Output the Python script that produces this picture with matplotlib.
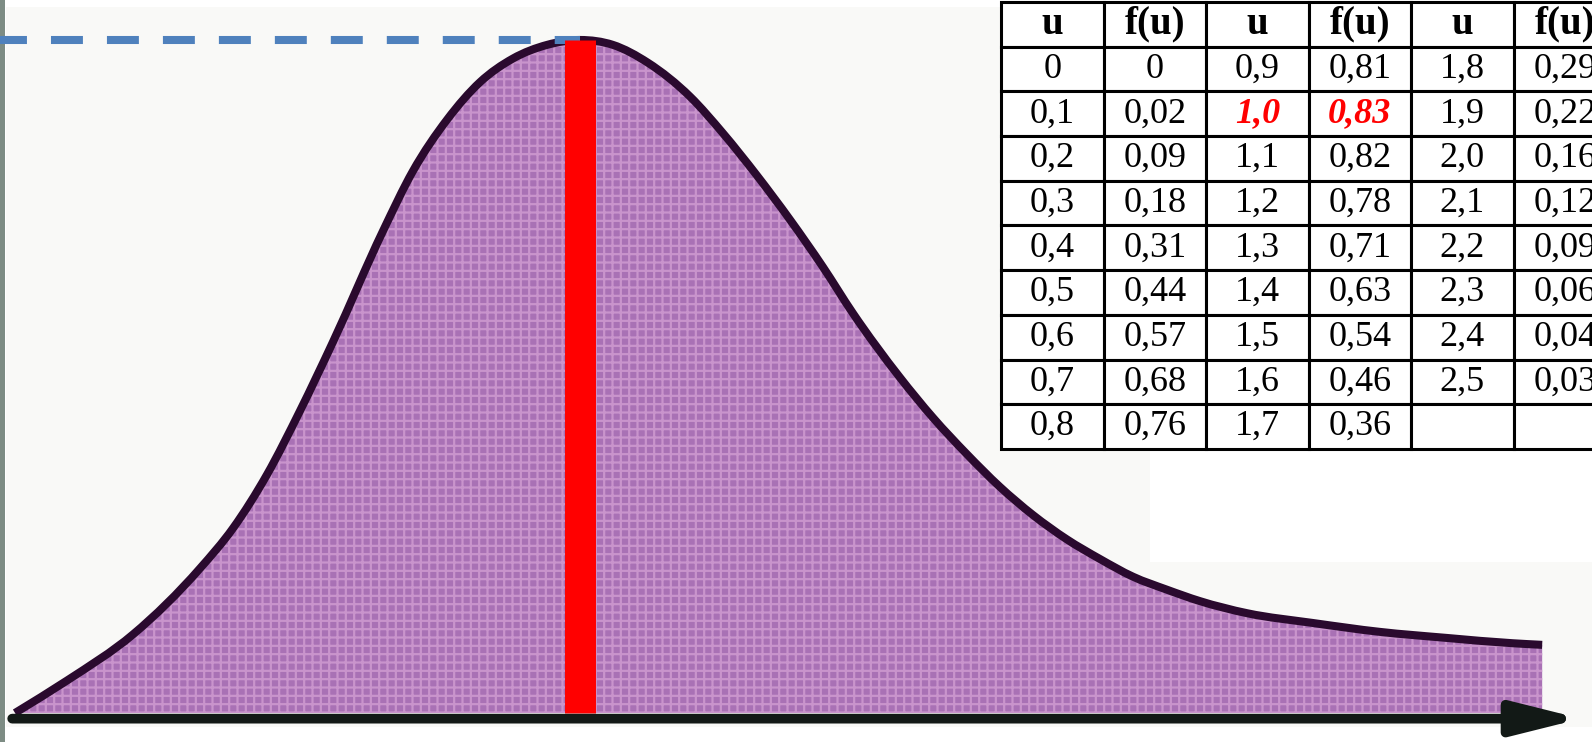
import numpy as np
import matplotlib
matplotlib.use('Agg')
import matplotlib.pyplot as plt
from matplotlib.patches import Rectangle, PathPatch
from matplotlib.path import Path

# table values (u, f(u)), peak highlighted in red
u_vals = [0.0, 0.1, 0.2, 0.3, 0.4, 0.5, 0.6, 0.7, 0.8,
          0.9, 1.0, 1.1, 1.2, 1.3, 1.4, 1.5, 1.6, 1.7,
          1.8, 1.9, 2.0, 2.1, 2.2, 2.3, 2.4, 2.5]
f_vals = [0, 0.02, 0.09, 0.18, 0.31, 0.44, 0.57, 0.68, 0.76,
          0.81, 0.83, 0.82, 0.78, 0.71, 0.63, 0.54, 0.46, 0.36,
          0.29, 0.22, 0.16, 0.12, 0.09, 0.06, 0.04, 0.03]
peak_u = 1.0
peak_f = 0.83

# outline of the drawn curve
curve_u = [0.0, 0.092, 0.209, 0.327, 0.386, 0.446, 0.504, 0.563,
           0.651, 0.704, 0.765, 0.823, 0.881, 0.942, 1.0, 1.058, 1.120,
           1.195, 1.253, 1.313, 1.372, 1.430, 1.483, 1.566, 1.625, 1.685,
           1.743, 1.802, 1.862, 1.920, 1.979, 2.039, 2.097, 2.181, 2.297,
           2.416, 2.535, 2.651, 2.703]
curve_f = [0.0, 0.040, 0.097, 0.178, 0.228, 0.294, 0.372, 0.458,
           0.594, 0.668, 0.732, 0.778, 0.807, 0.824, 0.830, 0.824, 0.802,
           0.760, 0.715, 0.663, 0.608, 0.550, 0.493, 0.414, 0.364, 0.319,
           0.279, 0.244, 0.214, 0.190, 0.168, 0.152, 0.138, 0.123, 0.111,
           0.100, 0.0925, 0.086, 0.084]


def fmt(v, nd):
    if v == 0:
        return '0'
    return ('%.*f' % (nd, v)).replace('.', ',')


def smooth(xs, ys):
    # cubic hermite bezier path through the read points
    x = np.asarray(xs, float)
    y = np.asarray(ys, float)
    h = np.diff(x)
    d = np.diff(y) / h
    m = np.empty_like(y)
    m[0], m[-1] = d[0], d[-1]
    m[1:-1] = (d[:-1] * h[1:] + d[1:] * h[:-1]) / (h[:-1] + h[1:])
    verts = [(x[0], y[0])]
    codes = [Path.MOVETO]
    for i in range(len(x) - 1):
        verts += [(x[i] + h[i] / 3, y[i] + m[i] * h[i] / 3),
                  (x[i + 1] - h[i] / 3, y[i + 1] - m[i + 1] * h[i] / 3),
                  (x[i + 1], y[i + 1])]
        codes += [Path.CURVE4] * 3
    return verts, codes


plt.rcParams['lines.scale_dashes'] = False
plt.rcParams['hatch.linewidth'] = 1.6

fig = plt.figure(figsize=(15.92, 7.42), dpi=100, facecolor='white')
ax = fig.add_axes([0, 0, 1, 1])
ax.set_xlim(-0.0266, 2.7912)
ax.set_ylim(-0.0358, 0.8793)
ax.axis('off')

# scanned paper background
ax.add_patch(Rectangle((0.004, 0.02), 0.996, 0.97, transform=ax.transAxes,
                       facecolor='#f9f9f7', edgecolor='none', zorder=0))
ax.add_patch(Rectangle((0.7224, 0.2426), 0.28, 0.153, transform=ax.transAxes,
                       facecolor='white', edgecolor='none', zorder=0.5))
ax.add_patch(Rectangle((0.0, 0.0), 0.003, 1.0, transform=ax.transAxes,
                       facecolor='#7d8c84', edgecolor='none', zorder=0.6))

# filled curve
verts, codes = smooth(curve_u, curve_f)
area = Path(verts + [(curve_u[-1], 0), (curve_u[0], 0), (curve_u[0], 0)],
            codes + [Path.LINETO, Path.LINETO, Path.CLOSEPOLY])
ax.add_patch(PathPatch(area, facecolor='#a971b5', edgecolor='none', zorder=1))
ax.add_patch(PathPatch(area, facecolor='none', edgecolor='#c994cc', hatch='++',
                       linewidth=0, zorder=1.1))
ax.add_patch(PathPatch(Path(verts, codes), facecolor='none', edgecolor='#2a0a2e',
                       lw=5.8, capstyle='butt', joinstyle='round', zorder=2))

# dashed level of the maximum and vertical line at the mode
ax.plot([ax.get_xlim()[0], peak_u], [peak_f, peak_f], color='#4f81bd', lw=5.8,
        ls=(3.6, (23, 17.3)), zorder=3)
ax.vlines(peak_u, 0, peak_f, colors='#ff0000', lw=22.3, zorder=4)

# axis arrow
ax.annotate('', xy=(2.772, -0.007), xytext=(-0.005, -0.007),
            arrowprops=dict(arrowstyle='-|>,head_length=4.0,head_width=1.0',
                            mutation_scale=10, lw=7, color='#121916',
                            shrinkA=0, shrinkB=0), zorder=5)

# table: three pairs of columns
n = 9
rows = []
for i in range(n):
    row = []
    for c in range(3):
        k = c * n + i
        if k < len(u_vals):
            row += [fmt(u_vals[k], 1), fmt(f_vals[k], 2)]
        else:
            row += ['', '']
    rows.append(row)

tab = ax.table(cellText=rows, colLabels=['u', 'f(u)'] * 3, cellLoc='center',
               bbox=[0.6288, 0.3949, 0.3863, 0.6024], zorder=10)
tab.auto_set_font_size(False)
for (r, c), cell in tab.get_celld().items():
    cell.set_linewidth(2.2)
    cell.set_edgecolor('black')
    cell.set_facecolor('white')
    t = cell.get_text()
    t.set_fontfamily('Liberation Serif')
    t.set_fontsize(26)
    if r == 0:
        t.set_fontweight('bold')
        t.set_fontsize(28)
    else:
        k = (c // 2) * n + (r - 1)
        if k < len(u_vals) and u_vals[k] == peak_u:
            t.set_color('#ff0000')
            t.set_fontweight('bold')
            t.set_fontstyle('italic')

fig.savefig('out.png', dpi=100, facecolor='white')
